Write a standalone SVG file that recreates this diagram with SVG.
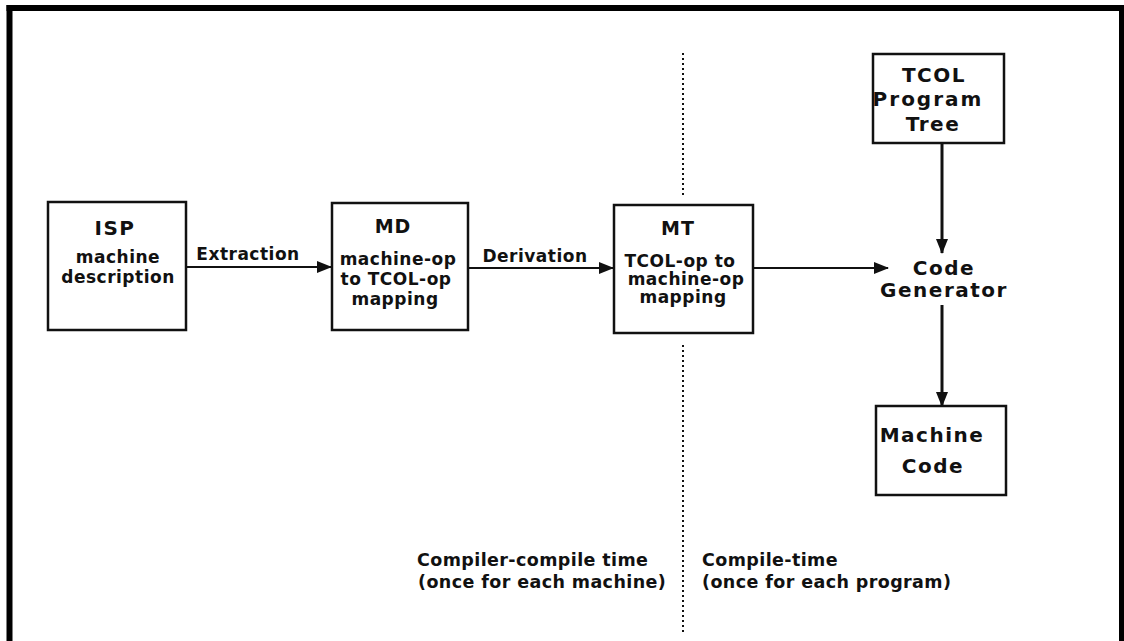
<svg xmlns="http://www.w3.org/2000/svg" width="1124" height="641" viewBox="0 0 1124 641">
<style>
.box{fill:#fff;stroke:#111;stroke-width:2.5}
.t{font-family:"DejaVu Sans","Liberation Sans",sans-serif;font-weight:bold;fill:#111;text-anchor:middle}
.s{font-size:17px;letter-spacing:0.5px}
.h{font-size:19px;letter-spacing:1px}
.b{font-size:20px;letter-spacing:1.5px}
.l{font-size:17.5px;letter-spacing:0.4px;text-anchor:start}
.c{fill:none;stroke:#111;stroke-width:2}
.v{fill:none;stroke:#111;stroke-width:3}
.dot{fill:none;stroke:#111;stroke-width:2;stroke-dasharray:2 3}
</style>
<defs>
<marker id="ah" markerUnits="userSpaceOnUse" markerWidth="15" markerHeight="12" refX="14" refY="6" orient="auto">
<path d="M0,0 L15,6 L0,12 z" fill="#111"/>
</marker>
</defs>
<rect width="1124" height="641" fill="#fff"/>
<g id="frame" fill="#000">
<rect x="6.5" y="5" width="6" height="636"/>
<rect x="6.5" y="5" width="1117.5" height="6"/>
<rect x="1119" y="5" width="5" height="636"/>
</g>
<g id="divider">
<line class="dot" x1="683" y1="53" x2="683" y2="196"/>
<line class="dot" x1="683" y1="345" x2="683" y2="634"/>
</g>
<g id="connectors">
<line class="c" x1="186" y1="267" x2="331" y2="267" marker-end="url(#ah)"/>
<line class="c" x1="468" y1="268" x2="613" y2="268" marker-end="url(#ah)"/>
<line class="c" x1="753" y1="268" x2="888" y2="268" marker-end="url(#ah)"/>
<line class="v" x1="942" y1="143" x2="942" y2="253" marker-end="url(#ah)"/>
<line class="v" x1="942" y1="305" x2="942" y2="406" marker-end="url(#ah)"/>
<text class="t s" x="248" y="260">Extraction</text>
<text class="t s" x="535" y="262">Derivation</text>
</g>
<g id="isp">
<rect class="box" x="48" y="202" width="138" height="128"/>
<text class="t b" x="115" y="235">ISP</text>
<text class="t s" x="118" y="263">machine</text>
<text class="t s" x="118" y="283">description</text>
</g>
<g id="md">
<rect class="box" x="332" y="203" width="136" height="127"/>
<text class="t h" x="393" y="233">MD</text>
<text class="t s" x="398" y="265">machine-op</text>
<text class="t s" x="396" y="285">to TCOL-op</text>
<text class="t s" x="395" y="305">mapping</text>
</g>
<g id="mt">
<rect class="box" x="614" y="205" width="139" height="128"/>
<text class="t h" x="678" y="235">MT</text>
<text class="t s" x="680" y="267">TCOL-op to</text>
<text class="t s" x="686" y="285">machine-op</text>
<text class="t s" x="683" y="303">mapping</text>
</g>
<g id="tcol">
<rect class="box" x="873" y="54" width="131" height="89"/>
<text class="t b" x="934" y="82">TCOL</text>
<text class="t b" x="928" y="106" style="letter-spacing:2px">Program</text>
<text class="t b" x="933" y="131">Tree</text>
</g>
<g id="codegen">
<text class="t b" x="944" y="275">Code</text>
<text class="t b" x="944" y="297">Generator</text>
</g>
<g id="machinecode">
<rect class="box" x="876" y="406" width="130" height="89"/>
<text class="t b" x="932" y="442">Machine</text>
<text class="t b" x="933" y="473">Code</text>
</g>
<g id="labels">
<text class="t l" x="417" y="566">Compiler-compile time</text>
<text class="t l" x="418" y="588">(once for each machine)</text>
<text class="t l" x="702" y="566">Compile-time</text>
<text class="t l" x="702" y="588">(once for each program)</text>
</g>
</svg>
